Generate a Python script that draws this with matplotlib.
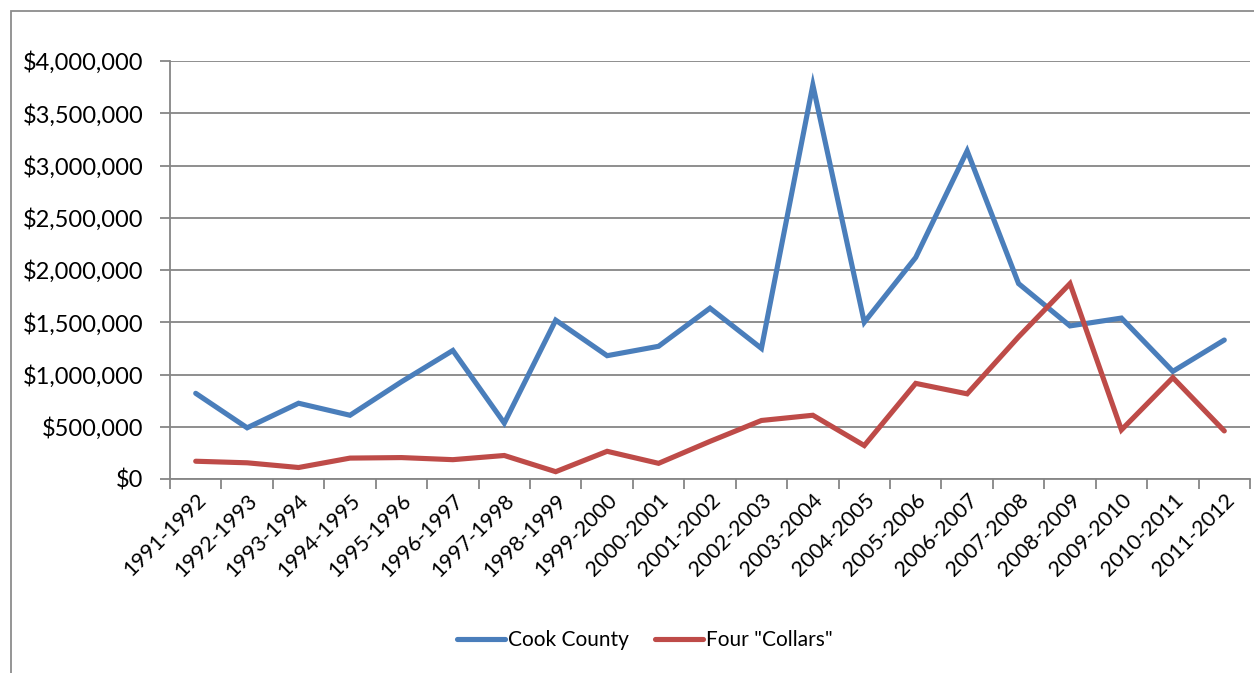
import numpy as np
import matplotlib
matplotlib.use("Agg")
from matplotlib import pyplot as plt
from matplotlib import patches
from matplotlib.ticker import FuncFormatter

# fiscal years
years = ['1991-1992', '1992-1993', '1993-1994', '1994-1995', '1995-1996', '1996-1997',
         '1997-1998', '1998-1999', '1999-2000', '2000-2001', '2001-2002', '2002-2003',
         '2003-2004', '2004-2005', '2005-2006', '2006-2007', '2007-2008', '2008-2009',
         '2009-2010', '2010-2011', '2011-2012']

cook = [820000, 490000, 725000, 610000, 930000, 1230000, 535000, 1520000, 1180000, 1270000,
        1635000, 1250000, 3770000, 1500000, 2120000, 3140000, 1870000, 1465000, 1540000,
        1030000, 1330000]
collars = [170000, 155000, 110000, 200000, 205000, 185000, 225000, 70000, 265000, 150000,
           360000, 560000, 610000, 320000, 915000, 815000, 1360000, 1870000, 470000,
           970000, 460000]

yticks = [0, 500000, 1000000, 1500000, 2000000, 2500000, 3000000, 3500000, 4000000]

plt.rcParams['font.family'] = ['Lato', 'DejaVu Sans']

W, H = 1254, 673
fig = plt.figure(figsize=(W / 100, H / 100), dpi=100)
fig.patch.set_facecolor('white')

# chart border
fig.patches.append(patches.Rectangle((11 / W, -0.1), 1.2, 1 - 11 / H + 0.1,
                                     transform=fig.transFigure, fill=False,
                                     edgecolor='#8c8c8c', linewidth=1.3))

ax = fig.add_axes([170 / W, 1 - 479 / H, 1080 / W, 418 / H])
x = np.arange(len(years))
grey = '#868686'

ax.plot(x, cook, color='#4A7EBB', lw=3.7, solid_joinstyle='miter', solid_capstyle='round',
        label='Cook County', zorder=3)
ax.plot(x, collars, color='#BE4B48', lw=3.7, solid_joinstyle='miter', solid_capstyle='round',
        label='Four "Collars"', zorder=3)

ax.set_xlim(-0.5, len(years) - 0.5)
ax.set_ylim(0, 4000000)
ax.set_yticks(yticks)
ax.yaxis.set_major_formatter(FuncFormatter(lambda v, p: '${:,.0f}'.format(v)))
ax.grid(axis='y', color=grey, lw=1.3)
ax.set_axisbelow(True)

ax.set_xticks(x)
ax.set_xticklabels(years, rotation=45, ha='right', rotation_mode='anchor', fontsize=15.5)
ax.set_xticks(np.arange(-0.5, len(years)), minor=True)
ax.tick_params(axis='x', which='major', length=0, pad=8)
ax.tick_params(axis='x', which='minor', length=7, width=1.3, color=grey)
ax.tick_params(axis='y', length=7, width=1.3, color=grey, labelsize=17, pad=12)

for side in ['top', 'right']:
    ax.spines[side].set_visible(False)
for side in ['left', 'bottom']:
    ax.spines[side].set_color(grey)
    ax.spines[side].set_linewidth(1.3)

fig.legend(loc='center', bbox_to_anchor=(0.514, 1 - 640 / H), ncol=2, frameon=False,
           fontsize=15, handlelength=2.3, handletextpad=0.15, columnspacing=1.25)

fig.savefig('out.png', dpi=100)
